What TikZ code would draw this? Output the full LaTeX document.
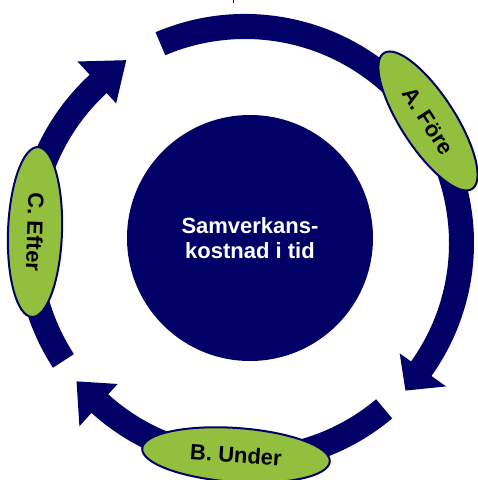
\documentclass[tikz,border=0pt]{standalone}
\usepackage{fontspec}
\setmainfont{Liberation Sans}
\usetikzlibrary{shapes.geometric}
\definecolor{navy}{RGB}{0,0,102}
\definecolor{lgreen}{RGB}{146,192,62}
% ring arrow: #1 start angle, #2 tip angle, #3 head back angle
\newcommand\myarrow[3]{%
  \fill[navy] (#1:229) arc[start angle=#1, end angle=#3, radius=229]
    -- (#3:247) -- (#2:218) -- (#3:190) -- (#3:204)
    arc[start angle=#3, end angle=#1, radius=204] -- cycle;}
\begin{document}
\begin{tikzpicture}[x=0.75pt,y=0.75pt,
  font=\bfseries\fontsize{16.5}{19}\selectfont,
  lab/.style={ellipse, draw=navy, line width=1.5pt, fill=lgreen,
    inner sep=0pt, text=black, minimum height=40.5pt}]
\useasboundingbox (0,0) rectangle (478,480);
\begin{scope}[shift={(245,237)}]
  \myarrow{113}{-42.6}{-35.5}
  \myarrow{-50}{-140.6}{-132.1}
  \myarrow{213}{123}{132.7}
\end{scope}
\node[lab, minimum width=121.5pt, rotate=-57] (fore) at (428,359) {A. Före};
\node[lab, minimum width=141pt, rotate=-4] (under) at (236,25) {B. Under};
\node[lab, minimum width=127.5pt, rotate=-92] (efter) at (35,248) {C. Efter};
\node[circle, fill=navy, minimum size=184.5pt, inner sep=0pt, text=white,
  align=center] (core) at (250,242) {Samverkans-\\kostnad i tid};
\fill[black] (233,477) rectangle (234.5,480);
\end{tikzpicture}
\end{document}
